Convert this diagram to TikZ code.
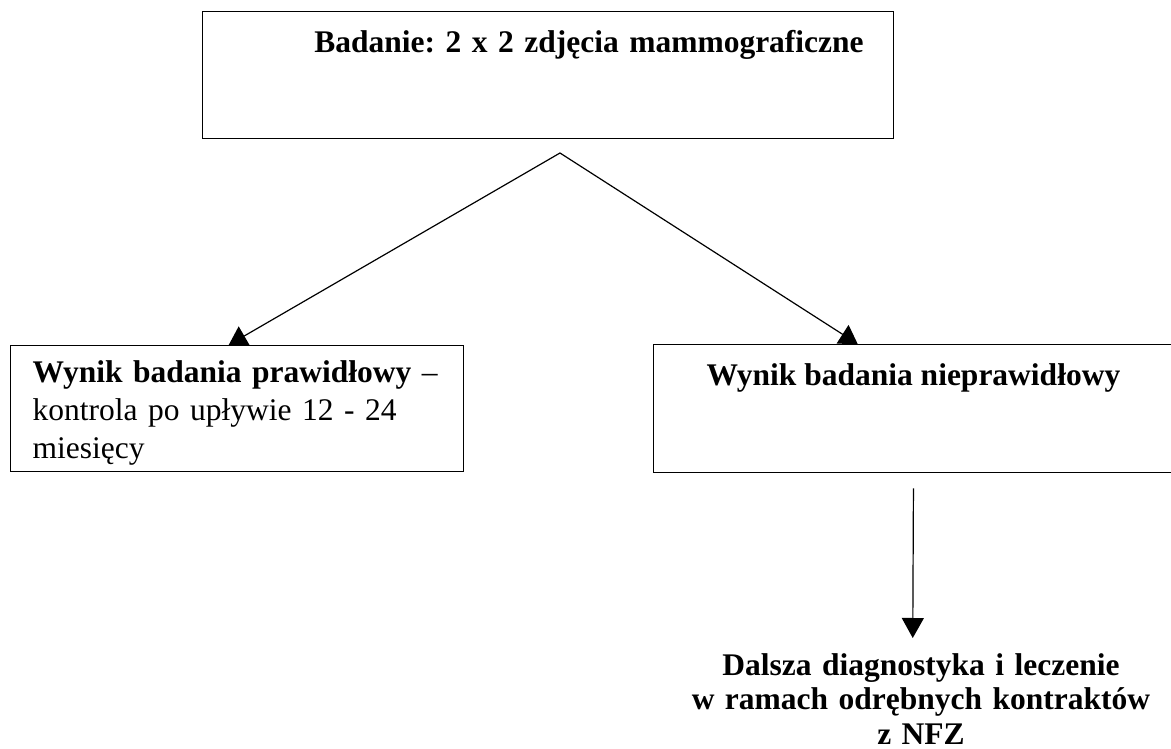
\documentclass[tikz,border=0pt]{standalone}
\usepackage{fontspec}
\setmainfont{Liberation Serif}
\usepackage{tikz}
\usetikzlibrary{positioning}
\usetikzlibrary{arrows.meta}
\frenchspacing

\begin{document}
\begin{tikzpicture}
                [x=1pt, y=-1pt, box/.style = {draw, line width=1.4pt, inner sep=0pt, anchor=north west}, txt/.style={font=\fontsize{31.5}{38}\selectfont}, arr/.style={{Triangle[length=18pt,width=22pt]}-{Triangle[length=18pt,width=22pt]}, line width=1.2pt}, arr1/.style={-{Triangle[length=20pt,width=22pt]}, line width=1.2pt}]
                \useasboundingbox (0,0) rectangle (1171,749);
                % Boxes
                \node[box, txt, text width=631pt, inner xsep=30pt, align=right, text height=41pt, text depth=86pt] (badanie) at (202,11) {\textbf{Badanie: 2 x 2 zdjęcia mammograficzne}};
                \node[box, txt, text width=409pt, inner xsep=22pt, align=left, text height=37pt, text depth=89pt] (prawidlowy) at (10,345) {\textbf{Wynik badania prawidłowy} --\\kontrola po upływie 12 - 24\\miesięcy};
                \node[box, txt, minimum width=519.5pt, text height=41pt, text depth=87pt] (nieprawidlowy) at (653,344) {\textbf{Wynik badania nieprawidłowy}};
                % Text below the arrow
                \node[font=\fontsize{31.5}{34.5}\selectfont\bfseries, text width=470pt, align=center, anchor=base, inner sep=0pt] (dalsza) at (921,675) {Dalsza diagnostyka i leczenie\\w ramach odrębnych kontraktów\\z NFZ};
                % Lines
                \coordinate (rozwidlenie) at (560,153);
                \coordinate (grot) at (912.75,638);
                \draw[arr] ([xshift=-8.5pt]prawidlowy.north) -- (rozwidlenie) -- ([xshift=-55.75pt]nieprawidlowy.north);
                \draw[arr1] ([yshift=-15pt]nieprawidlowy.south) -- (grot);
            \end{tikzpicture}
\end{document}
